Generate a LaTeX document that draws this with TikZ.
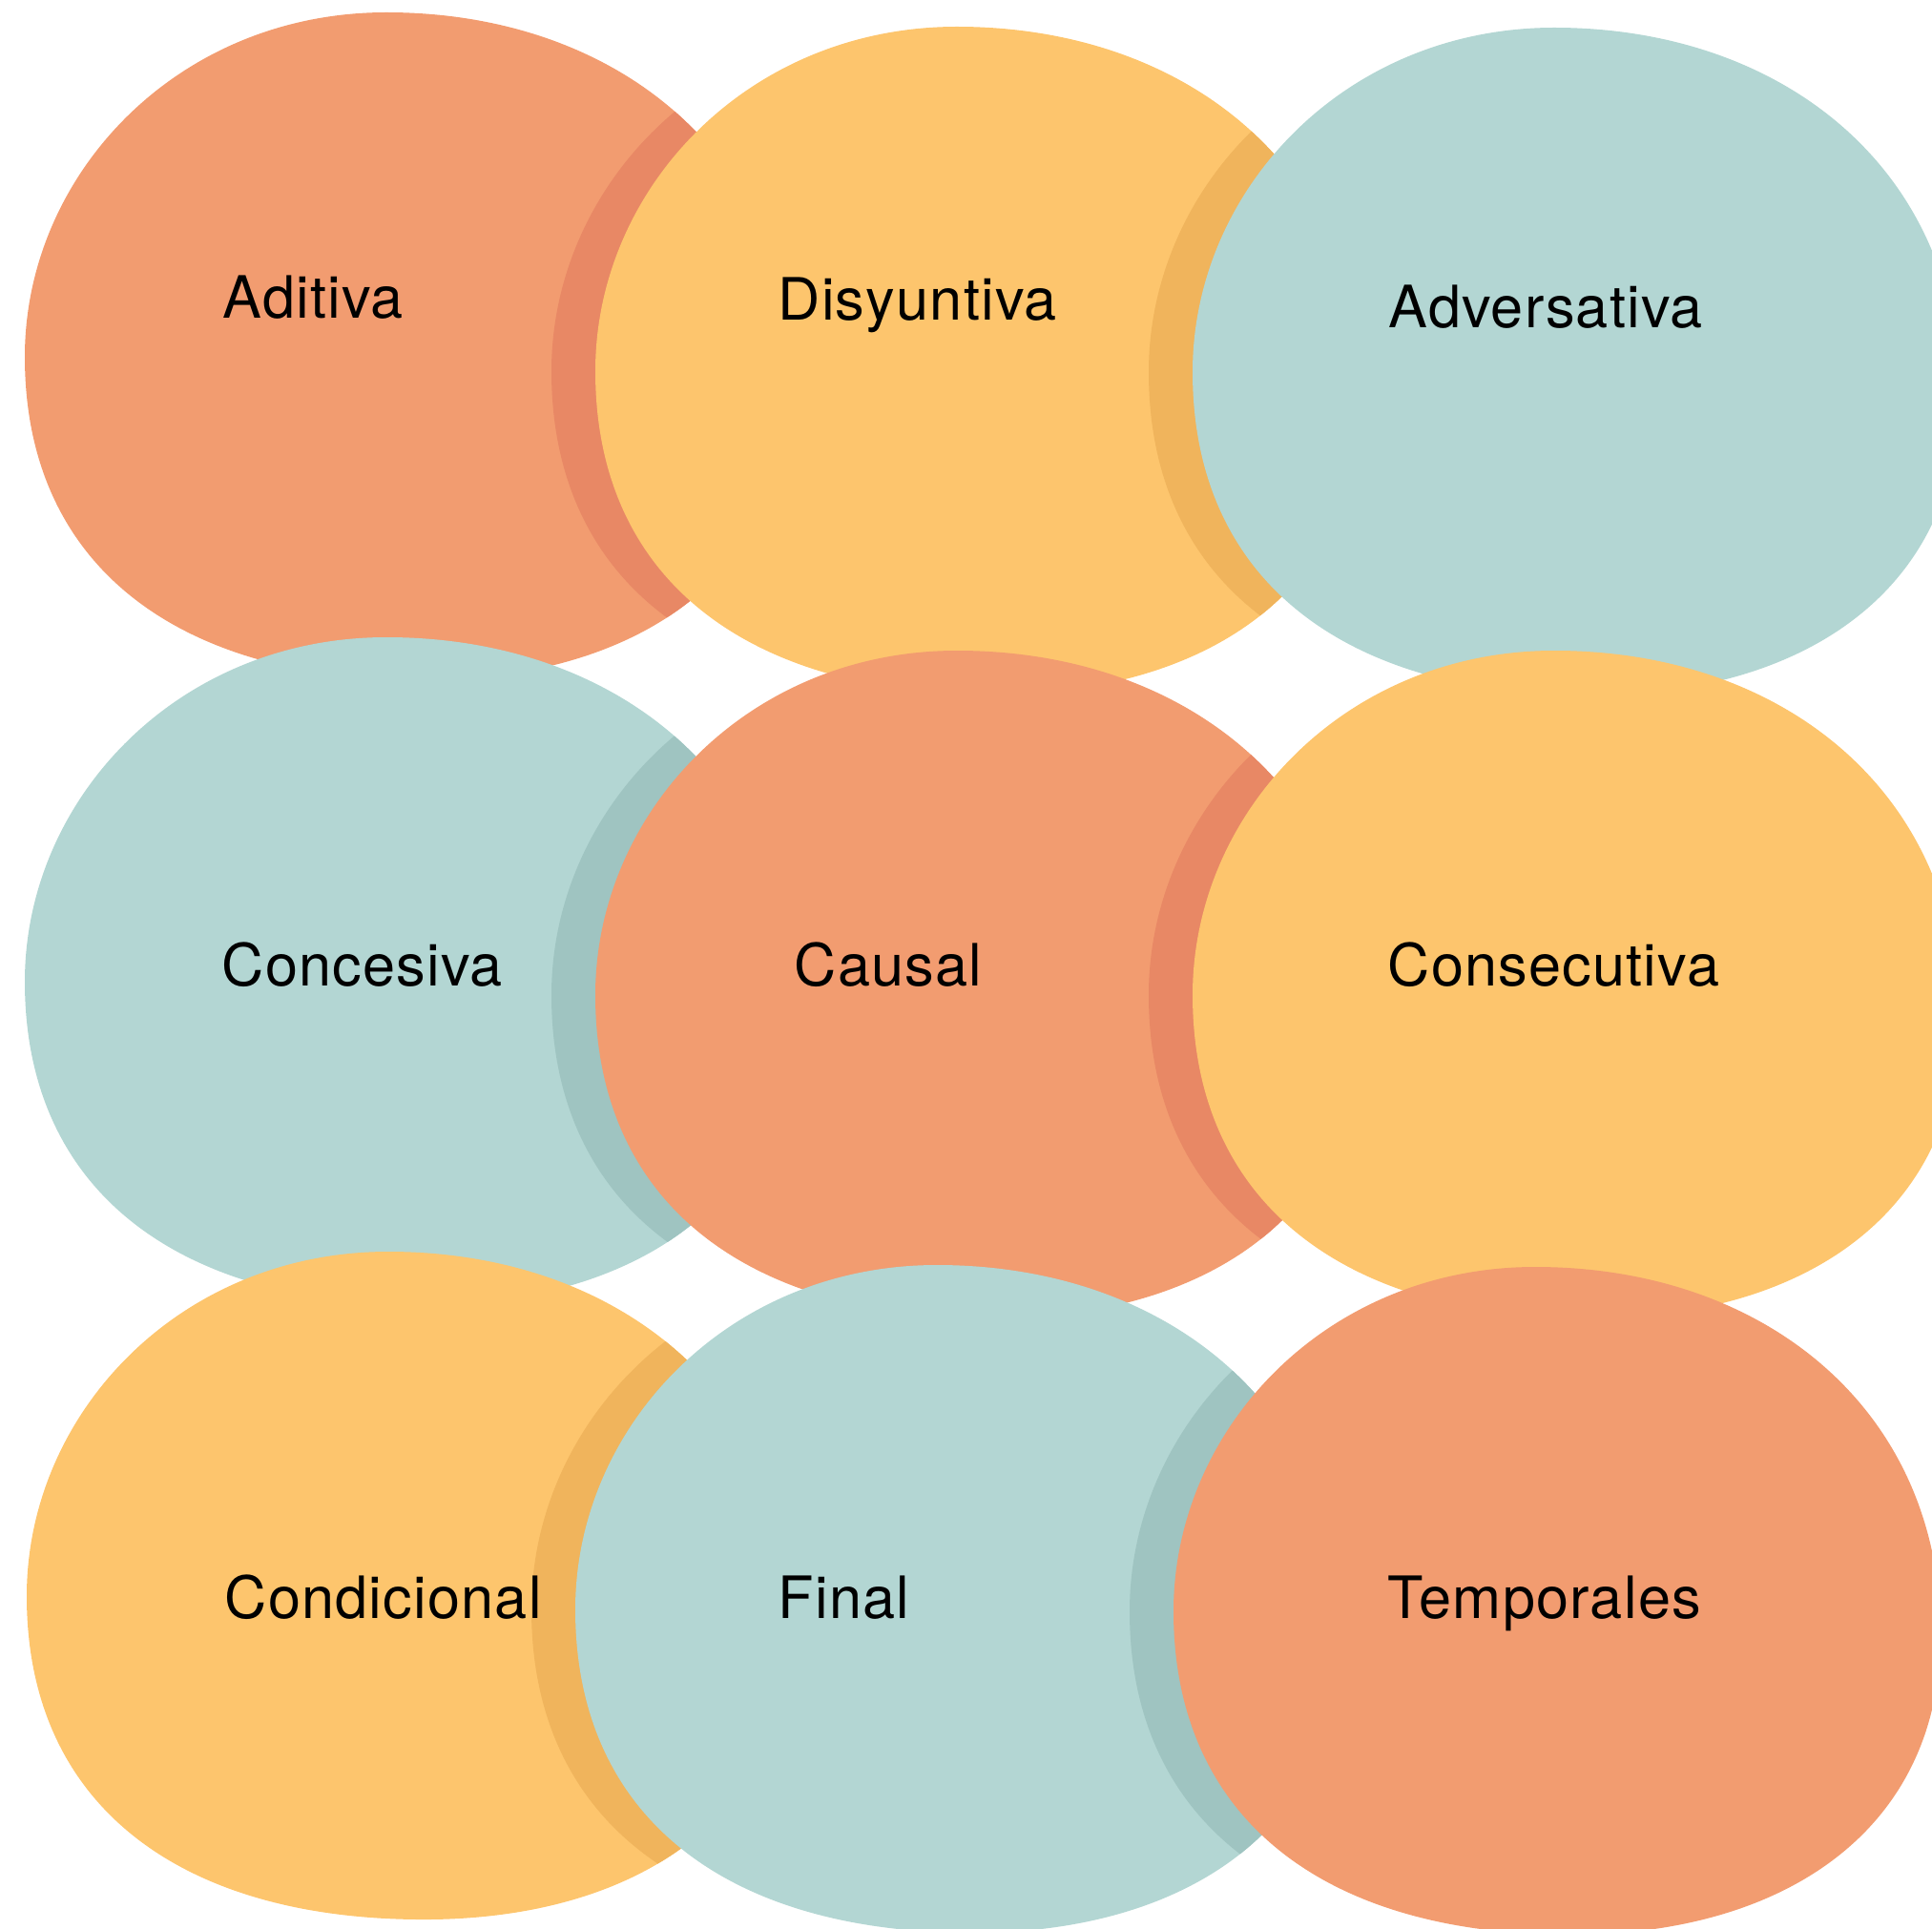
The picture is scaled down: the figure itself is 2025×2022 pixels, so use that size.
\documentclass[tikz,border=0pt]{standalone}
\usepackage{fontspec}
\setmainfont{TeX Gyre Heros}[LetterSpace=2.0]
\usepackage{tikz}

\definecolor{naranja}{HTML}{F29C70}
\definecolor{naranjaosc}{HTML}{E88865}
\definecolor{amarillo}{HTML}{FDC56D}
\definecolor{amarillosc}{HTML}{F0B45C}
\definecolor{verde}{HTML}{B3D6D3}
\definecolor{verdeosc}{HTML}{9FC4C1}

\newcommand{\blobshape}{(379,0) .. controls (620,0) and (804,150) .. (804,385) .. controls (804,590) and (640,702) .. (410,700) .. controls (160,698) and (0,580) .. (0,361) .. controls (0,170) and (160,0) .. (379,0) -- cycle}

\begin{document}
\begin{tikzpicture}[x=0.01cm, y=-0.01cm]
		\tikzstyle{tipo} = [anchor=base west, inner sep=0pt, text=black, font=\fontsize{17.4}{20}\selectfont]
		\useasboundingbox (0,0) rectangle (2025,2022);
		\clip (0,0) rectangle (2025,2022);
		
		% fila 1
		\fill[naranja, shift={(26,13)}] \blobshape;
		\begin{scope}
			\clip[shift={(26,13)}] \blobshape;
			\fill[naranjaosc, shift={(578,28)}] \blobshape;
		\end{scope}
		\fill[amarillo, shift={(624,28)}] \blobshape;
		\begin{scope}
			\clip[shift={(624,28)}] \blobshape;
			\fill[amarillosc, shift={(1204,29)}] \blobshape;
		\end{scope}
		\fill[verde, shift={(1250,29)}] \blobshape;
		
		% fila 2
		\fill[verde, shift={(26,668)}] \blobshape;
		\begin{scope}
			\clip[shift={(26,668)}] \blobshape;
			\fill[verdeosc, shift={(578,682)}] \blobshape;
		\end{scope}
		\fill[naranja, shift={(624,682)}] \blobshape;
		\begin{scope}
			\clip[shift={(624,682)}] \blobshape;
			\fill[naranjaosc, shift={(1204,682)}] \blobshape;
		\end{scope}
		\fill[amarillo, shift={(1250,682)}] \blobshape;
		
		% fila 3
		\fill[amarillo, shift={(28,1312)}] \blobshape;
		\begin{scope}
			\clip[shift={(28,1312)}] \blobshape;
			\fill[amarillosc, shift={(557,1326)}] \blobshape;
		\end{scope}
		\fill[verde, shift={(603,1326)}] \blobshape;
		\begin{scope}
			\clip[shift={(603,1326)}] \blobshape;
			\fill[verdeosc, shift={(1184,1328)}] \blobshape;
		\end{scope}
		\fill[naranja, shift={(1230,1328)}] \blobshape;
		
		\node[tipo] at (233,334) (aditiva) {Aditiva};
		\node[tipo] at (815,336) (disyuntiva) {Disyuntiva};
		\node[tipo] at (1455,344) (adversativa) {Adversativa};
		
		\node[tipo] at (232,1033) (concesiva) {Concesiva};
		\node[tipo] at (832,1033) (causal) {Causal};
		\node[tipo] at (1454,1033) (consecutiva) {Consecutiva};
		
		\node[tipo] at (235,1696) (condicional) {Condicional};
		\node[tipo] at (815,1696) (final) {Final};
		\node[tipo] at (1454,1696) (temporales) {Temporales};
\end{tikzpicture}
\end{document}
